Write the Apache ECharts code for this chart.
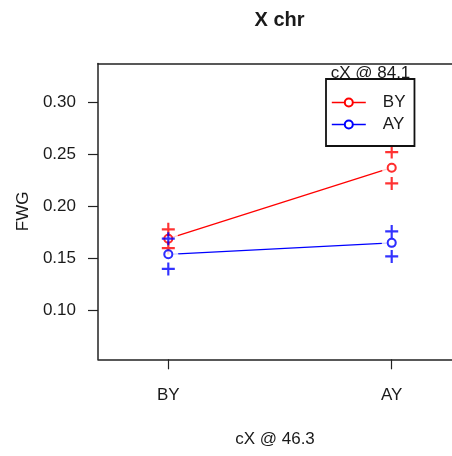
<!DOCTYPE html>
<html>
<head>
<meta charset="utf-8">
<script src="https://cdn.jsdelivr.net/npm/echarts@6/dist/echarts.min.js"></script>
<style>
  html, body { margin: 0; padding: 0; background: #fff; }
  #chart { width: 452px; height: 456px; }
</style>
</head>
<body>
<div id="chart"></div>
<script>
// Genotype at cX @ 46.3 along the x axis, grouped by genotype at cX @ 84.1
const categories = ['BY', 'AY'];
const groupNames = ['BY', 'AY'];
const groupColors = ['#ff0000', '#0000ff'];

// Group means with upper / lower error marks (mean ± SE)
const byMean  = [0.169, 0.237];
const byUpper = [0.178, 0.252];
const byLower = [0.160, 0.222];

const ayMean  = [0.154, 0.165];
const ayUpper = [0.169, 0.176];
const ayLower = [0.140, 0.152];

const yTicks = [0.10, 0.15, 0.20, 0.25, 0.30];

const FONT = '"Liberation Sans", Arial, sans-serif';
const TEXT = '#1a1a1a';
const AXIS = '#222';
const PLUS = 'path://M5,0H7V5H12V7H7V12H5V7H0V5H5Z';

const groups = [
  { name: groupNames[0], color: groupColors[0], mean: byMean, upper: byUpper, lower: byLower },
  { name: groupNames[1], color: groupColors[1], mean: ayMean, upper: ayUpper, lower: ayLower }
];

const toPoints = arr => arr.map((v, i) => [i + 1, v]);

const series = [];
groups.forEach(g => {
  // connecting line (legend entry)
  series.push({
    name: g.name, type: 'line', z: 1,
    data: toPoints(g.mean),
    symbol: 'emptyCircle', symbolSize: 8,
    lineStyle: { color: g.color, width: 1.3 },
    itemStyle: { color: g.color, borderWidth: 1.2 },
    silent: true
  });
});
groups.forEach(g => {
  // white halo breaking the line around each mean
  series.push({
    name: g.name + ' gap', type: 'scatter', z: 2,
    data: toPoints(g.mean),
    symbol: 'circle', symbolSize: 20,
    itemStyle: { color: '#ffffff' },
    silent: true
  });
});
groups.forEach(g => {
  series.push({
    name: g.name + ' mean', type: 'scatter', z: 3,
    data: toPoints(g.mean),
    symbol: 'emptyCircle', symbolSize: 8,
    itemStyle: { color: g.color, borderColor: g.color, borderWidth: 1.2 },
    silent: true
  });
  series.push({
    name: g.name + ' se', type: 'scatter', z: 3,
    data: toPoints(g.upper).concat(toPoints(g.lower)),
    symbol: PLUS, symbolSize: 13,
    itemStyle: { color: g.color },
    silent: true
  });
});

const frameLine = { show: true, lineStyle: { color: AXIS, width: 1.5 } };

const chart = echarts.init(document.getElementById('chart'), null, { renderer: 'canvas' });
chart.setOption({
  animation: false,
  backgroundColor: '#ffffff',
  textStyle: { fontFamily: FONT },
  grid: { left: 98, top: 63.5, right: 0, bottom: 96.7, show: false },
  xAxis: [
    {
      type: 'value', min: 0.6853, max: 2.2699, position: 'bottom',
      name: 'cX @ 46.3', nameLocation: 'middle', nameGap: 72,
      nameTextStyle: { fontSize: 17, color: TEXT, fontFamily: FONT },
      axisLine: frameLine,
      splitLine: { show: false },
      axisTick: { show: true, customValues: [1, 2], length: 10, lineStyle: { color: AXIS, width: 1.2 } },
      axisLabel: {
        customValues: [1, 2], margin: 28, fontSize: 17, color: TEXT, fontFamily: FONT,
        formatter: v => categories[Math.round(v) - 1] || ''
      }
    },
    {
      // top edge of the plot frame
      type: 'value', min: 0.6853, max: 2.2699, position: 'top',
      axisLine: frameLine, axisTick: { show: false }, axisLabel: { show: false }, splitLine: { show: false }
    }
  ],
  yAxis: {
    type: 'value', min: 0.0534, max: 0.3369,
    name: 'FWG', nameLocation: 'middle', nameGap: 66, nameRotate: 90,
    nameTextStyle: { fontSize: 17, color: TEXT, fontFamily: FONT },
    axisLine: frameLine,
    splitLine: { show: false },
    axisTick: { show: true, customValues: yTicks, length: 10, lineStyle: { color: AXIS, width: 1.2 } },
    axisLabel: {
      customValues: yTicks, margin: 22, fontSize: 17, color: TEXT, fontFamily: FONT,
      formatter: v => v.toFixed(2)
    }
  },
  legend: {
    data: groupNames,
    orient: 'vertical',
    left: 326, top: 79,
    padding: [15, 9, 13, 5],
    itemGap: 5,
    itemWidth: 34, itemHeight: 10,
    itemStyle: { borderWidth: 1.2 },
    lineStyle: { width: 1.6 },
    borderColor: '#111', borderWidth: 1.8, borderRadius: 0,
    backgroundColor: '#ffffff',
    selectedMode: false,
    textStyle: { fontSize: 17, color: TEXT, fontFamily: FONT, padding: [0, 0, 0, 12] }
  },
  graphic: [
    {
      type: 'text', z: 100, x: 279.5, y: 20,
      style: { text: 'X chr', font: 'bold 20px ' + FONT, fill: TEXT, textAlign: 'center', textVerticalAlign: 'middle' }
    },
    {
      type: 'text', z: 100, x: 370.5, y: 73,
      style: { text: 'cX @ 84.1', font: '17px ' + FONT, fill: TEXT, textAlign: 'center', textVerticalAlign: 'middle' }
    }
  ],
  series: series
});
</script>
</body>
</html>
